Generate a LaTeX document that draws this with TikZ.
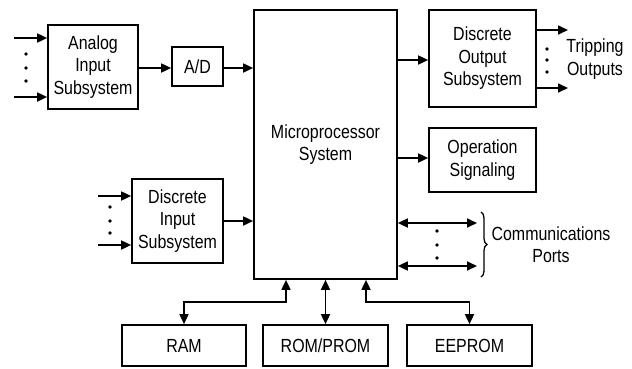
\documentclass[tikz,border=0pt]{standalone}
\usepackage{fontspec}
\setmainfont[FakeStretch=0.84]{Liberation Sans}
\usetikzlibrary{arrows.meta,decorations.pathreplacing}
\begin{document}
\begin{tikzpicture}[x=1pt,y=-1pt,
  blk/.style={draw,line width=1.7pt,align=center,inner sep=0pt,font=\fontsize{19}{22.5}\selectfont},
  lbl/.style={align=center,inner sep=0pt,font=\fontsize{19}{22.5}\selectfont},
  arr/.style={line width=1.7pt,-{Triangle[length=10pt,width=9pt]}},
  darr/.style={line width=1.7pt,{Triangle[length=10pt,width=9pt]}-{Triangle[length=10pt,width=9pt]}},
  dot/.style={circle,fill,inner sep=0pt,minimum size=3.8pt}]
\useasboundingbox (0,0) rectangle (632,368);
\node[blk,minimum width=90pt,minimum height=84pt] (ana) at (93,67) {Analog\\Input\\Subsystem};
\node[blk,minimum width=51pt,minimum height=39pt] (ad) at (197.5,66.5) {A/D};
\node[blk,minimum width=143pt,minimum height=269pt] (mp) at (325.5,144.5) {Microprocessor\\System};
\node[blk,minimum width=107pt,minimum height=97pt] (dout) at (482.5,58.5) {Discrete\\Output\\Subsystem};
\node[blk,minimum width=107pt,minimum height=64pt] (ops) at (482.5,160) {Operation\\Signaling};
\node[blk,minimum width=91pt,minimum height=84pt] (din) at (177.5,221) {Discrete\\Input\\Subsystem};
\node[blk,minimum width=124pt,minimum height=41pt] (ram) at (184,345.5) {RAM};
\node[blk,minimum width=125pt,minimum height=41pt] (rom) at (325.5,345.5) {ROM/PROM};
\node[blk,minimum width=125pt,minimum height=41pt] (eep) at (469.5,345.5) {EEPROM};
\node[lbl] (trip) at (595,59) {Tripping\\Outputs};
\node[lbl] (comm) at (551,244.5) {Communications\\Ports};
% analog inputs
\coordinate (ai1) at (14,38);
\coordinate (ai2) at (14,97);
\draw[arr] (ai1) -- (ai1 -| ana.west);
\draw[arr] (ai2) -- (ai2 -| ana.west);
\node[dot] (d1) at (26,54) {};
\node[dot] (d2) at (26,68) {};
\node[dot] (d3) at (26,81) {};
\draw[arr] (ana.east |- 0,68) -- (ad.west |- 0,68);
\draw[arr] (ad.east |- 0,68) -- (mp.west |- 0,68);
% discrete inputs
\coordinate (di1) at (98,196);
\coordinate (di2) at (98,245);
\draw[arr] (di1) -- (di1 -| din.west);
\draw[arr] (di2) -- (di2 -| din.west);
\node[dot] (d4) at (110,207) {};
\node[dot] (d5) at (110,221) {};
\node[dot] (d6) at (110,233) {};
\draw[arr] (din.east |- 0,221) -- (mp.west |- 0,221);
% outputs
\draw[arr] (mp.east |- 0,60) -- (dout.west |- 0,60);
\draw[arr] (mp.east |- 0,158) -- (ops.west |- 0,158);
\coordinate (to1) at (568,30);
\coordinate (to2) at (568,88);
\draw[arr] (dout.east |- to1) -- (to1);
\draw[arr] (dout.east |- to2) -- (to2);
\node[dot] (d7) at (547,49) {};
\node[dot] (d8) at (547,60) {};
\node[dot] (d9) at (547,72) {};
% communications
\coordinate (cp1) at (477,223);
\coordinate (cp2) at (477,266);
\draw[darr] (mp.east |- cp1) -- (cp1);
\draw[darr] (mp.east |- cp2) -- (cp2);
\node[dot] (d10) at (437,231) {};
\node[dot] (d11) at (437,245) {};
\node[dot] (d12) at (437,258) {};
\draw[line width=1.3pt,decorate,decoration={brace,amplitude=6pt}] (481,212) -- (481,277);
% memory
\coordinate (m1) at (286,302);
\coordinate (m3) at (366,302);
\draw[darr] (ram.north) |- (m1) -- (m1 |- mp.south);
\draw[darr] (rom.north) -- (rom.north |- mp.south);
\draw[darr] (eep.north) |- (m3) -- (m3 |- mp.south);
\end{tikzpicture}
\end{document}
